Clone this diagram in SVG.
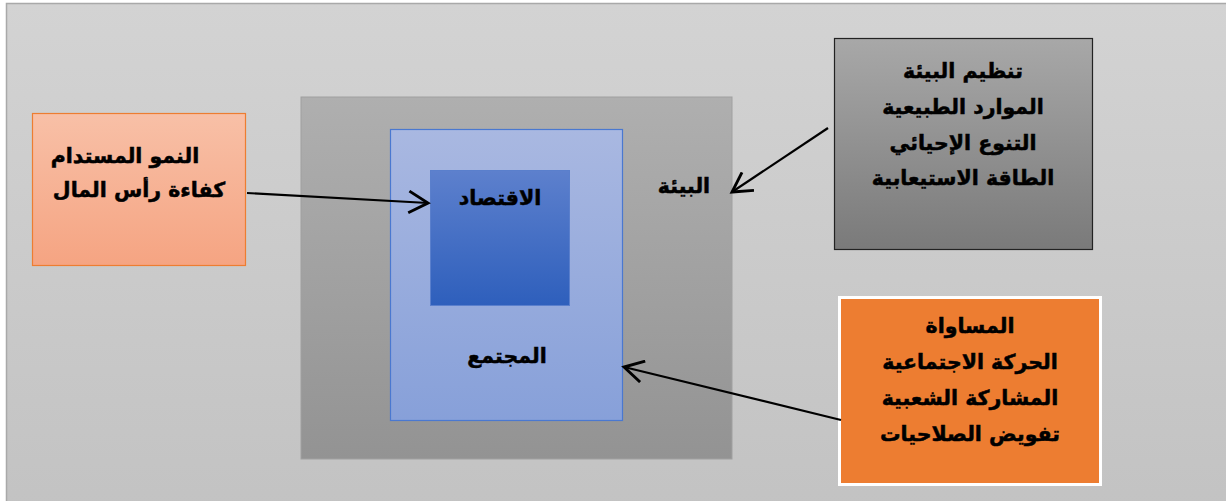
<svg xmlns="http://www.w3.org/2000/svg" width="1226" height="501" viewBox="0 0 1226 501">
<style>
text{font-family:"DejaVu Sans","Noto Sans",sans-serif;font-weight:bold;fill:#000;stroke:#000;stroke-width:0.5;text-anchor:middle;direction:rtl}
.t{font-size:20.5px}
.conn line{stroke:#000;stroke-width:2.2;fill:none}
</style>
<defs>
<linearGradient id="gBg" x1="0" y1="0" x2="0" y2="1"><stop offset="0" stop-color="#d3d3d3"/><stop offset="1" stop-color="#c2c2c2"/></linearGradient>
<linearGradient id="gEnv" x1="0" y1="0" x2="0" y2="1"><stop offset="0" stop-color="#afafaf"/><stop offset="1" stop-color="#939393"/></linearGradient>
<linearGradient id="gSoc" x1="0" y1="0" x2="0" y2="1"><stop offset="0" stop-color="#a9b8e1"/><stop offset="1" stop-color="#87a0d9"/></linearGradient>
<linearGradient id="gEco" x1="0" y1="0" x2="0" y2="1"><stop offset="0" stop-color="#5d80cd"/><stop offset="1" stop-color="#2e5fbc"/></linearGradient>
<linearGradient id="gPeach" x1="0" y1="0" x2="0" y2="1"><stop offset="0" stop-color="#f8c0a7"/><stop offset="1" stop-color="#f5a482"/></linearGradient>
<linearGradient id="gGray" x1="0" y1="0" x2="0" y2="1"><stop offset="0" stop-color="#a8a8a8"/><stop offset="1" stop-color="#7a7a7a"/></linearGradient>
<marker id="arr" markerUnits="userSpaceOnUse" markerWidth="24" markerHeight="24" refX="17" refY="10" orient="auto" viewBox="0 0 20 20">
<path d="M1,1 L17,10 L1,19" fill="none" stroke="#000" stroke-width="2.4"/>
</marker>
</defs>
<rect x="0" y="0" width="1226" height="501" fill="#ffffff"/>
<rect id="frame" x="6.5" y="3.5" width="1240" height="520" fill="url(#gBg)" stroke="#a9a9a9" stroke-width="1.5"/>
<g id="environment">
<rect x="301" y="97" width="431" height="362" fill="url(#gEnv)" stroke="#a0a0a0" stroke-width="1"/>
<text class="t" x="684" y="193">البيئة</text>
</g>
<g id="society">
<rect x="390.5" y="129.5" width="232" height="291" fill="url(#gSoc)" stroke="#4a78d0" stroke-width="1.2"/>
<text class="t" x="507" y="363">المجتمع</text>
</g>
<g id="economy">
<rect x="430.5" y="170.5" width="139" height="135" fill="url(#gEco)" stroke="#5a7fcc" stroke-width="1"/>
<text class="t" x="500" y="205">الاقتصاد</text>
</g>
<g id="growth">
<rect x="32.5" y="113.5" width="213" height="152" fill="url(#gPeach)" stroke="#ed7d31" stroke-width="1.2"/>
<text class="t" x="125" y="163">النمو المستدام</text>
<text class="t" x="139" y="197">كفاءة رأس المال</text>
</g>
<g id="ecology">
<rect x="834.5" y="38.5" width="258" height="211" fill="url(#gGray)" stroke="#222" stroke-width="1.2"/>
<text class="t" x="963" y="78">تنظيم البيئة</text>
<text class="t" x="963" y="114">الموارد الطبيعية</text>
<text class="t" x="963" y="150">التنوع الإحيائي</text>
<text class="t" x="963" y="185">الطاقة الاستيعابية</text>
</g>
<g id="social">
<rect x="839.5" y="297.5" width="261" height="187" fill="#ed7d31" stroke="#ffffff" stroke-width="3"/>
<text class="t" x="970" y="333">المساواة</text>
<text class="t" x="970" y="369">الحركة الاجتماعية</text>
<text class="t" x="970" y="405">المشاركة الشعبية</text>
<text class="t" x="970" y="441">تفويض الصلاحيات</text>
</g>
<g class="conn" id="connectors">
<line x1="247" y1="193" x2="428" y2="203" marker-end="url(#arr)"/>
<line x1="828" y1="128" x2="732" y2="192" marker-end="url(#arr)"/>
<line x1="841" y1="420" x2="624" y2="367" marker-end="url(#arr)"/>
</g>
</svg>
